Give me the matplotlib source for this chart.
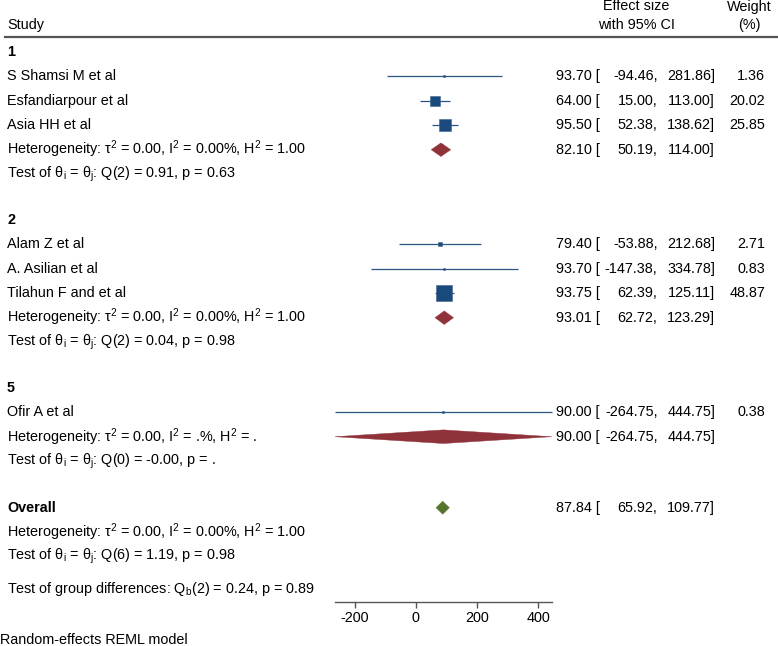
import matplotlib
matplotlib.use('Agg')
import matplotlib.pyplot as plt
from matplotlib.patches import Polygon
from matplotlib.lines import Line2D
import numpy as np

plt.rcParams['font.family'] = ['Liberation Sans', 'DejaVu Sans']
plt.rcParams['mathtext.default'] = 'regular'

# ---------------- data ----------------
group_labels = ['1', '2', '5']
study_names = [
    ['S Shamsi M et al', 'Esfandiarpour et al', 'Asia HH et al'],
    ['Alam Z et al', 'A. Asilian et al', 'Tilahun F and et al'],
    ['Ofir A et al'],
]
study_est = [[93.70, 64.00, 95.50], [79.40, 93.70, 93.75], [90.00]]
study_lo = [[-94.46, 15.00, 52.38], [-53.88, -147.38, 62.39], [-264.75]]
study_hi = [[281.86, 113.00, 138.62], [212.68, 334.78, 125.11], [444.75]]
study_wt = [[1.36, 20.02, 25.85], [2.71, 0.83, 48.87], [0.38]]

group_est = [82.10, 93.01, 90.00]
group_lo = [50.19, 62.72, -264.75]
group_hi = [114.00, 123.29, 444.75]
group_het = [
    'Heterogeneity: τ$^2$ = 0.00, I$^2$ = 0.00%, H$^2$ = 1.00',
    'Heterogeneity: τ$^2$ = 0.00, I$^2$ = 0.00%, H$^2$ = 1.00',
    'Heterogeneity: τ$^2$ = 0.00, I$^2$ = .%, H$^2$ = .',
]
group_test = [
    'Test of θ$_i$ = θ$_j$: Q(2) = 0.91, p = 0.63',
    'Test of θ$_i$ = θ$_j$: Q(2) = 0.04, p = 0.98',
    'Test of θ$_i$ = θ$_j$: Q(0) = -0.00, p = .',
]
overall_est, overall_lo, overall_hi = 87.84, 65.92, 109.77
overall_het = 'Heterogeneity: τ$^2$ = 0.00, I$^2$ = 0.00%, H$^2$ = 1.00'
overall_test = 'Test of θ$_i$ = θ$_j$: Q(6) = 1.19, p = 0.98'
group_diff = 'Test of group differences: Q$_b$(2) = 0.24, p = 0.89'
x_ticks = [-200, 0, 200, 400]
footer = 'Random-effects REML model'

# ---------------- style / layout ----------------
W, H = 778, 646
FS = 10.4
C_SQ = '#1a4a7c'
C_LINE = '#2a5684'
C_GRP = '#90323a'
C_ALL = '#55752f'

TOP_ROW, STEP = 51.7, 24.5
GROUP_GAP, OVERALL_GAP, DIFF_GAP = 45.5, 46.5, 32.6
AX_L, AX_R, AX_T, AX_B = 335, 551.7, 37, 601.7

fig = plt.figure(figsize=(W / 100, H / 100), dpi=100)
ax = fig.add_axes([AX_L / W, 1 - AX_B / H, (AX_R - AX_L) / W, (AX_B - AX_T) / H])
all_lo = [v for g in study_lo for v in g]
all_hi = [v for g in study_hi for v in g]
ax.set_xlim(min(all_lo), max(all_hi))
ax.set_ylim(AX_B, AX_T)
for s in ['top', 'left', 'right']:
    ax.spines[s].set_visible(False)
ax.spines['bottom'].set_color('#555555')
ax.spines['bottom'].set_linewidth(1.0)
ax.set_yticks([])
ax.set_xticks(x_ticks)
ax.set_xticklabels([str(t) for t in x_ticks], fontsize=FS)
ax.tick_params(axis='x', length=4, width=1.0, color='#555555', pad=3)
ax.patch.set_alpha(0)

def fx(px):
    return px / W

tr = matplotlib.transforms.blended_transform_factory(fig.transFigure, ax.transData)

def left_text(y, s, bold=False):
    ax.text(fx(7), y, s, transform=tr, ha='left', va='center', fontsize=FS,
            fontweight='bold' if bold else 'normal')

def stats_text(y, e, l, h, w=None):
    ax.text(fx(600), y, f'{e:.2f} [', transform=tr, ha='right', va='center', fontsize=FS)
    ax.text(fx(657.5), y, f'{l:.2f},', transform=tr, ha='right', va='center', fontsize=FS)
    ax.text(fx(715), y, f'{h:.2f}]', transform=tr, ha='right', va='center', fontsize=FS)
    if w is not None:
        ax.text(fx(765), y, f'{w:.2f}', transform=tr, ha='right', va='center', fontsize=FS)

def diamond(y, e, l, h, color, half_h):
    poly = Polygon([[l, y], [e, y - half_h], [h, y], [e, y + half_h]], closed=True,
                   facecolor=color, edgecolor=color, lw=0.3, clip_on=False, zorder=3)
    ax.add_patch(poly)

# header
fig.text(fx(7), 1 - 25 / H, 'Study', ha='left', va='center', fontsize=FS)
fig.text(fx(636), 1 - 6.5 / H, 'Effect size', ha='center', va='center', fontsize=FS)
fig.text(fx(636), 1 - 25 / H, 'with 95% CI', ha='center', va='center', fontsize=FS)
fig.text(fx(749), 1 - 6.5 / H, 'Weight', ha='center', va='center', fontsize=FS)
fig.text(fx(749), 1 - 25 / H, '(%)', ha='center', va='center', fontsize=FS)
fig.add_artist(Line2D([fx(5), 1.0], [1 - 37 / H, 1 - 37 / H], color='#555555', lw=1.6,
                      transform=fig.transFigure))

y = TOP_ROW
for gi, g in enumerate(group_labels):
    if gi > 0:
        y += GROUP_GAP
    left_text(y, g, bold=True)
    for name, e, l, h, w in zip(study_names[gi], study_est[gi], study_lo[gi],
                                study_hi[gi], study_wt[gi]):
        y += STEP
        left_text(y, name)
        ax.plot([l, h], [y, y], color=C_LINE, lw=0.9, clip_on=False, zorder=2,
                solid_capstyle='butt')
        side_pt = 2.39 * np.sqrt(w) * 0.72
        ax.scatter([e], [y], marker='s', s=max(side_pt, 1.4) ** 2, color=C_SQ,
                   edgecolors='#3d6690', linewidths=0.4, zorder=4, clip_on=False)
        stats_text(y, e, l, h, w)
    y += STEP
    left_text(y, group_het[gi])
    diamond(y, group_est[gi], group_lo[gi], group_hi[gi], C_GRP, 6.8)
    stats_text(y, group_est[gi], group_lo[gi], group_hi[gi])
    y += STEP
    left_text(y, group_test[gi])

y += OVERALL_GAP
left_text(y, 'Overall', bold=True)
diamond(y, overall_est, overall_lo, overall_hi, C_ALL, 6.5)
stats_text(y, overall_est, overall_lo, overall_hi)
y += STEP
left_text(y, overall_het)
y += STEP
left_text(y, overall_test)
y += DIFF_GAP
left_text(y, group_diff)

fig.text(fx(0), 1 - 640 / H, footer, ha='left', va='center', fontsize=FS)

fig.savefig('out.png', dpi=100, facecolor='white')
